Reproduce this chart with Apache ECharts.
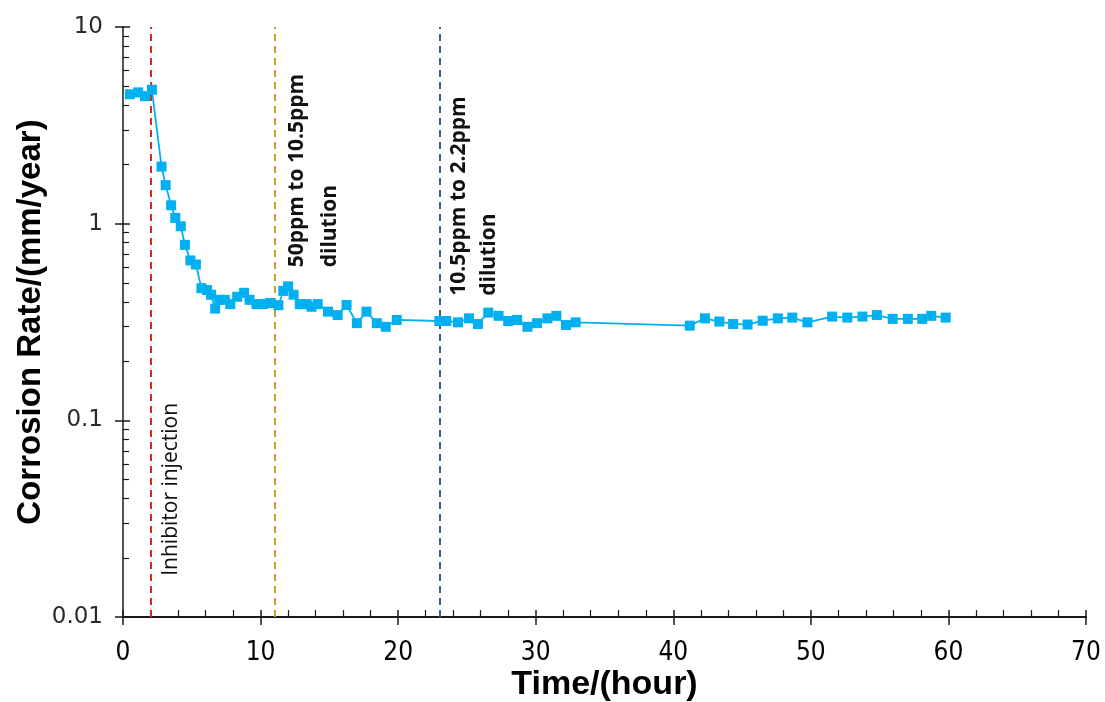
<!DOCTYPE html>
<html>
<head>
<meta charset="utf-8">
<script src="https://cdn.jsdelivr.net/npm/echarts@6/dist/echarts.min.js"></script>
<style>
  html, body { margin: 0; padding: 0; background: #fff; }
  #chart { width: 1105px; height: 702px; }
</style>
</head>
<body>
<div id="chart"></div>
<script>
// Time since start of test (hours)
const timeHours = [
  0.5, 1.1, 1.6, 2.1, 2.8, 3.1, 3.5, 3.8, 4.2, 4.5, 4.9, 5.3, 5.7, 6.1, 6.4, 6.7,
  7.0, 7.4, 7.8, 8.3, 8.8, 9.2, 9.7, 10.2, 10.7, 11.3, 11.65, 12.0, 12.4, 12.85,
  13.35, 13.7, 14.15, 14.9, 15.6, 16.25, 17.0, 17.7, 18.45, 19.1, 19.9,
  23.0, 23.5, 24.35, 25.15, 25.8, 26.55, 27.3, 28.0, 28.65, 29.4, 30.1, 30.85,
  31.5, 32.2, 32.9,
  41.2, 42.3, 43.35, 44.35, 45.4, 46.5, 47.6, 48.65, 49.75, 51.55, 52.65, 53.75,
  54.8, 55.95, 57.05, 58.1, 58.75, 59.8
];
// Measured corrosion rate (mm/year)
const corrosionRate = [
  4.55, 4.65, 4.45, 4.8, 1.95, 1.57, 1.24, 1.07, 0.97, 0.78, 0.65, 0.62, 0.47, 0.46, 0.435, 0.37,
  0.41, 0.41, 0.39, 0.425, 0.445, 0.41, 0.39, 0.39, 0.395, 0.385, 0.455, 0.48, 0.435, 0.39,
  0.39, 0.378, 0.39, 0.357, 0.343, 0.386, 0.312, 0.357, 0.312, 0.299, 0.324,
  0.32, 0.32, 0.315, 0.33, 0.309, 0.353, 0.34, 0.32, 0.324, 0.299, 0.312, 0.33,
  0.34, 0.305, 0.315,
  0.303, 0.33, 0.318, 0.309, 0.307, 0.321, 0.33, 0.333, 0.315, 0.337, 0.333, 0.337,
  0.343, 0.328, 0.328, 0.328, 0.34, 0.333
];

// Process events: time (h), colour of the marker line, annotation lines
const eventTimes = [2, 11, 23];
const eventColors = ['#d42a2a', '#c9a020', '#3d5f8c'];
const eventLabels = [
  ['Inhibitor injection'],
  ['50ppm to 10.5ppm', 'dilution'],
  ['10.5ppm to 2.2ppm', 'dilution']
];

// Axis ranges and ticks
const xTickValues = [0, 10, 20, 30, 40, 50, 60, 70];
const yTickValues = [0.01, 0.1, 1, 10];
const yMinorValues = [];
for (const d of [0.01, 0.1, 1]) {
  for (let k = 2; k <= 9; k++) yMinorValues.push(+(d * k).toPrecision(3));
}

const chart = echarts.init(document.getElementById('chart'));
const GRID = { left: 123, right: 19, top: 27, bottom: 85 };
const axisColor = '#1a1a1a';

const points = timeHours.map((t, i) => [t, corrosionRate[i]]);

const option = {
  animation: false,
  backgroundColor: '#ffffff',
  grid: Object.assign({ containLabel: false, outerBoundsMode: 'none' }, GRID),
  xAxis: [
    {
      type: 'value', min: 0, max: 70, interval: 10, position: 'bottom',
      name: 'Time/(hour)', nameLocation: 'middle', nameGap: 51, nameMoveOverlap: false,
      nameTextStyle: { fontFamily: 'Liberation Sans', fontWeight: 'bold', fontSize: 34, color: '#000' },
      axisLine: { show: true, onZero: false, lineStyle: { color: axisColor, width: 2.2 } },
      axisTick: { show: true, inside: true, length: 7, lineStyle: { color: axisColor, width: 1.5 } },
      minorTick: { show: true, splitNumber: 5, length: 7, lineStyle: { color: axisColor, width: 1.2 } },
      axisLabel: {
        show: true, margin: 23, color: '#000',
        fontFamily: '"Liberation Sans Narrow", "DejaVu Sans Condensed", Lato, sans-serif', fontSize: 26,
        customValues: xTickValues
      },
      splitLine: { show: false }
    },
    {
      type: 'value', min: 0, max: 70, interval: 10, position: 'bottom',
      axisLine: { show: false, onZero: false },
      axisTick: { show: true, inside: false, length: 8, lineStyle: { color: axisColor, width: 1.5 } },
      axisLabel: { show: false },
      splitLine: { show: false }
    }
  ],
  yAxis: [
    {
      type: 'log', logBase: 10, min: 0.01, max: 10, position: 'left',
      name: 'Corrosion Rate/(mm/year)', nameLocation: 'middle', nameGap: 76, nameMoveOverlap: false,
      nameTextStyle: { fontFamily: 'Liberation Sans', fontWeight: 'bold', fontSize: 33, color: '#000' },
      axisLine: { show: true, lineStyle: { color: axisColor, width: 1.5 } },
      axisTick: { show: true, inside: false, length: 8, lineStyle: { color: axisColor, width: 1.5 } },
      axisLabel: {
        show: true, margin: 20, color: '#2a2a2a',
        fontFamily: 'DejaVu Sans', fontSize: 23,
        customValues: yTickValues,
        formatter: v => String(+(+v).toPrecision(3))
      },
      splitLine: { show: false }
    },
    {
      type: 'log', logBase: 10, min: 0.01, max: 10, position: 'left',
      axisLine: { show: false },
      axisTick: { show: true, inside: true, length: 7, customValues: yTickValues, lineStyle: { color: axisColor, width: 1.5 } },
      axisLabel: { show: false },
      splitLine: { show: false }
    },
    {
      type: 'log', logBase: 10, min: 0.01, max: 10, position: 'left',
      axisLine: { show: false },
      axisTick: { show: true, inside: true, length: 6, customValues: yMinorValues, lineStyle: { color: axisColor, width: 1.2 } },
      axisLabel: { show: false },
      splitLine: { show: false }
    }
  ],
  series: [
    {
      type: 'line',
      data: points,
      xAxisIndex: 0, yAxisIndex: 0,
      symbol: 'rect', symbolSize: 10,
      itemStyle: { color: '#00b0f0' },
      lineStyle: { color: '#00b0f0', width: 1.8 },
      z: 5,
      markLine: {
        silent: true,
        symbol: ['none', 'none'],
        label: { show: false },
        data: eventTimes.map((t, i) => ({
          xAxis: t,
          lineStyle: { color: eventColors[i], type: [7, 5], width: 2 }
        }))
      }
    }
  ]
};
chart.setOption(option);

// Rotated annotations beside each event line, anchored to the event time
// and to the bottom of the text column at a given rate value.
const labelBaseRates = [0.0162, 0.6, 0.43];
const labelOffsets = [9, 6, 5];
const labelLineHeights = [24, 33, 30];
const labelFonts = [
  { fontSize: 21, fontWeight: 'normal' },
  { fontSize: 21, fontWeight: 'bold' },
  { fontSize: 21, fontWeight: 'bold' }
];
const graphics = eventTimes.map((t, i) => {
  const p = chart.convertToPixel({ xAxisIndex: 0, yAxisIndex: 0 }, [t, labelBaseRates[i]]);
  return {
    type: 'text',
    x: p[0] + labelOffsets[i],
    y: p[1],
    rotation: Math.PI / 2,
    style: {
      text: eventLabels[i].join('\n'),
      fontFamily: '"Open Sans", sans-serif',
      fontSize: labelFonts[i].fontSize,
      fontWeight: labelFonts[i].fontWeight,
      lineHeight: labelLineHeights[i],
      fill: '#111',
      align: 'left',
      verticalAlign: 'top'
    },
    z: 10
  };
});
chart.setOption({ graphic: graphics });
</script>
</body>
</html>
